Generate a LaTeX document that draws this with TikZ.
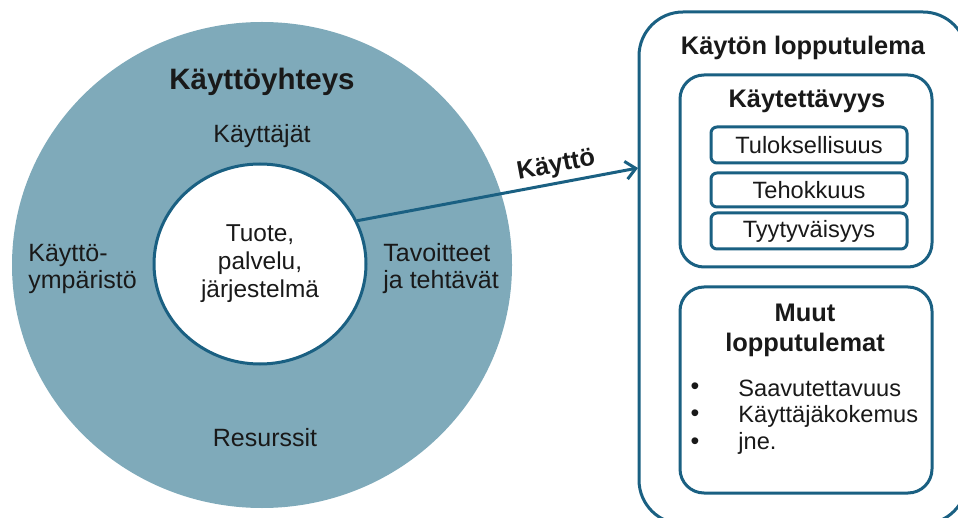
\documentclass[tikz,border=0pt]{standalone}
\usepackage{fontspec}
\setmainfont{Liberation Sans}
\usetikzlibrary{shapes.geometric,arrows.meta}

\definecolor{ringblue}{RGB}{127,170,186}
\definecolor{edgeblue}{RGB}{26,96,130}
\definecolor{ink}{RGB}{25,25,25}

\tikzset{
    lbl/.style={inner sep=0pt, text=ink, font=\fontsize{12.5}{13.5}\selectfont},
    head/.style={inner sep=0pt, text=ink, font=\fontsize{12.7}{15}\selectfont\bfseries},
    frame/.style={draw=edgeblue, line width=1.5pt, fill=white},
    item/.style={frame, rounded corners=3pt, minimum width=98pt, minimum height=18pt, inner sep=0pt, text=ink, font=\fontsize{11.8}{13}\selectfont},
}

\begin{document}
\begin{tikzpicture}[x=0.5pt, y=-0.5pt]
    \clip (0,0) rectangle (958,518);

    % Context of use
    \node[ellipse, fill=ringblue, minimum width=250pt, minimum height=243pt, inner sep=0pt] (ctx) at (262,265) {};
    \node[ellipse, frame, minimum width=106pt, minimum height=100pt, inner sep=0pt, align=center, text=ink, font=\fontsize{12.2}{14}\selectfont] (core) at (260,264) {Tuote,\\palvelu,\\järjestelmä};

    \node[head, font=\fontsize{14.75}{17}\selectfont\bfseries] (ctxtitle) at (262,82) {Käyttöyhteys};
    \node[lbl] (users) at (262,136) {Käyttäjät};
    \node[lbl, anchor=west, align=left] (env) at (28,269) {Käyttö-\\ympäristö};
    \node[lbl, anchor=west, align=left] (goals) at (383,269) {Tavoitteet\\ja tehtävät};
    \node[lbl] (res) at (265,438) {Resurssit};

    % Outcome of use
    \node[frame, rounded corners=22pt, minimum width=164pt, minimum height=256pt] (outcome) at (803,268) {};
    \node[head] (outtitle) at (803,48) {Käytön lopputulema};

    \node[frame, rounded corners=12pt, minimum width=126pt, minimum height=96pt] (usab) at (806,171) {};
    \node[head] (usabtitle) at (807,101) {Käytettävyys};
    \node[item] (effect) at (809,145) {Tuloksellisuus};
    \node[item, minimum height=17pt] (effic) at (809,190) {Tehokkuus};
    \node[item] (satis) at (809,231) {Tyytyväisyys};

    \node[frame, rounded corners=12pt, minimum width=126pt, minimum height=103pt] (other) at (806,390) {};
    \node[head, align=center] (othertitle) at (805,330) {Muut\\lopputulemat};
    \foreach \txt [count=\i] in {Saavutettavuus, Käyttäjäkokemus, jne.} {
        \node[lbl, font=\fontsize{12.5}{13}\selectfont] (dot\i) at (695,361+27.5*\i) {•};
        \node[lbl, anchor=west, font=\fontsize{11.8}{13}\selectfont] (oth\i) at (738,361+27.5*\i) {\txt};
    }

    % Use arrow
    \coordinate (usein) at (638,168);
    \draw[edgeblue, line width=1.5pt, -{Straight Barb[length=5pt, width=9pt]}] (core.24) -- (usein)
        node[head, pos=0.72, above=2pt, sloped] (uselbl) {Käyttö};

\end{tikzpicture}
\end{document}
